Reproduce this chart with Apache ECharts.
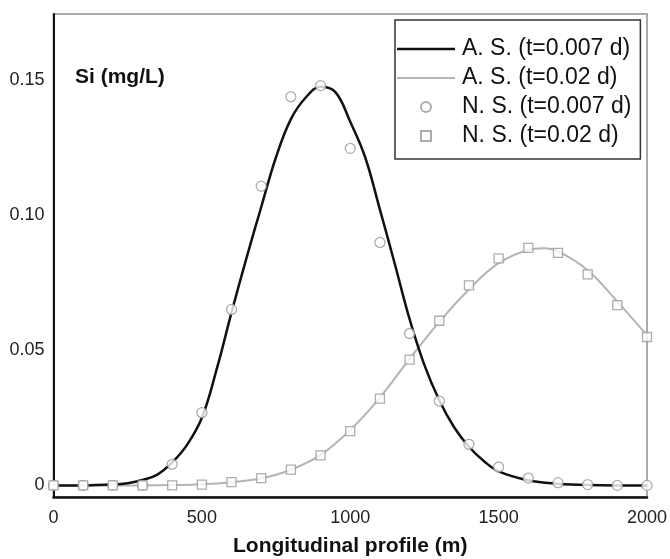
<!DOCTYPE html>
<html>
<head>
<meta charset="utf-8">
<script src="https://cdn.jsdelivr.net/npm/echarts@6/dist/echarts.min.js"></script>
<style>html,body{margin:0;padding:0;background:#fff}#c{width:670px;height:559px}</style>
</head>
<body>
<div id="c"></div>
<script>
// Analytic solution t=0.007 d (black line)
const asX1 = [0,100,200,250,300,350,400,450,500,550,600,650,700,750,800,850,900,950,1000,1050,1100,1150,1200,1250,1300,1350,1400,1450,1500,1600,1700,1800,1900,2000];
const asY1 = [0,0,0.0003,0.0008,0.002,0.004,0.0085,0.015,0.025,0.043,0.064,0.084,0.103,0.1215,0.1355,0.1435,0.1475,0.1455,0.1345,0.1215,0.102,0.082,0.0615,0.0445,0.0315,0.0215,0.0143,0.009,0.0052,0.0019,0.0006,0.0001,0,0];
// Analytic solution t=0.02 d (grey line)
const asX2 = [0,100,200,300,400,500,600,700,800,900,1000,1100,1200,1300,1400,1500,1600,1650,1700,1800,1900,2000];
const asY2 = [0,0,0,0,0.0001,0.0004,0.0012,0.0026,0.0058,0.0113,0.0205,0.0325,0.0468,0.0605,0.0725,0.0822,0.0871,0.0877,0.0866,0.0796,0.068,0.0555];
// Numerical solution points
const nsX = [0,100,200,300,400,500,600,700,800,900,1000,1100,1200,1300,1400,1500,1600,1700,1800,1900,2000];
const nsY1 = [0,0,0,0,0.0078,0.0269,0.0651,0.1107,0.1438,0.1479,0.1247,0.0899,0.0562,0.0312,0.0152,0.0068,0.0027,0.001,0.0003,0,0];
const nsY2 = [0,0,0,0,0,0.0003,0.0012,0.0027,0.0058,0.0111,0.0201,0.0321,0.0465,0.0609,0.074,0.084,0.0879,0.086,0.0781,0.0667,0.0549];
const yTicks = [0, 0.05, 0.10, 0.15];
const xTickInterval = 500;

const FONT = "'Liberation Sans', Arial, sans-serif";
const pair = (xs, ys) => xs.map((x, i) => [x, ys[i]]);

const chart = echarts.init(document.getElementById('c'), null, {renderer: 'canvas'});
chart.setOption({
  animation: false,
  backgroundColor: '#fff',
  textStyle: {fontFamily: FONT},
  title: {
    text: 'Si (mg/L)', left: 70, top: 62,
    textStyle: {fontFamily: FONT, fontSize: 21, fontWeight: 'bold', color: '#111'}
  },
  grid: {left: 53.5, right: 23, top: 14, bottom: 62, show: true, borderColor: '#aaa', borderWidth: 2,
         containLabel: false, outerBoundsMode: 'none'},
  legend: {
    orient: 'vertical', left: 395, top: 20,
    padding: [17, 9, 11, 2],
    itemWidth: 58, itemHeight: 10, itemGap: 5,
    borderColor: '#333', borderWidth: 1.5, backgroundColor: '#fff',
    textStyle: {fontFamily: FONT, fontSize: 23, color: '#111', lineHeight: 24, padding: [0,0,0,2]},
    data: [
      {name: 'A. S. (t=0.007 d)', icon: 'path://M0,0 L58,0 L58,2.5 L0,2.5 Z', itemStyle: {color: '#111', borderWidth: 0}},
      {name: 'A. S. (t=0.02 d)', icon: 'path://M0,0 L58,0 L58,2 L0,2 Z', itemStyle: {color: '#b4b4b4', borderWidth: 0}},
      {name: 'N. S. (t=0.007 d)', icon: 'circle'},
      {name: 'N. S. (t=0.02 d)', icon: 'path://M0,0 L10,0 L10,10 L0,10 Z'}
    ]
  },
  xAxis: {
    type: 'value', min: 0, max: 2000, interval: xTickInterval,
    name: 'Longitudinal profile (m)', nameLocation: 'middle', nameGap: 39,
    nameTextStyle: {fontFamily: FONT, fontSize: 21, fontWeight: 'bold', color: '#111'},
    axisLine: {show: true, onZero: false, lineStyle: {color: '#111', width: 2.5}},
    axisTick: {show: false},
    splitLine: {show: false},
    axisLabel: {fontFamily: FONT, fontSize: 18, color: '#222', margin: 12, formatter: v => String(v)}
  },
  yAxis: {
    type: 'value', min: -0.0043, max: 0.1744,
    axisLine: {show: true, onZero: false, lineStyle: {color: '#111', width: 2}},
    axisTick: {show: false},
    splitLine: {show: false},
    axisLabel: {
      fontFamily: FONT, fontSize: 18, color: '#222', margin: 9,
      customValues: yTicks,
      formatter: v => (Math.abs(v) < 1e-9 ? '0' : v.toFixed(2))
    }
  },
  series: [
    {
      name: 'A. S. (t=0.007 d)', type: 'line', data: pair(asX1, asY1),
      smooth: 0.4, symbol: 'none', showSymbol: false, z: 3,
      lineStyle: {color: '#111', width: 2.5}, itemStyle: {color: '#111'}
    },
    {
      name: 'A. S. (t=0.02 d)', type: 'line', data: pair(asX2, asY2),
      smooth: 0.4, symbol: 'none', showSymbol: false, z: 2,
      lineStyle: {color: '#b4b4b4', width: 2}, itemStyle: {color: '#b4b4b4'}
    },
    {
      name: 'N. S. (t=0.007 d)', type: 'scatter', data: pair(nsX, nsY1),
      symbol: 'circle', symbolSize: 10, z: 5,
      itemStyle: {color: '#fff', borderColor: '#999', borderWidth: 1.3}
    },
    {
      name: 'N. S. (t=0.02 d)', type: 'scatter', data: pair(nsX, nsY2),
      symbol: 'rect', symbolSize: 9, z: 6,
      itemStyle: {color: '#fff', borderColor: '#999', borderWidth: 1.3}
    }
  ]
});
</script>
</body>
</html>
